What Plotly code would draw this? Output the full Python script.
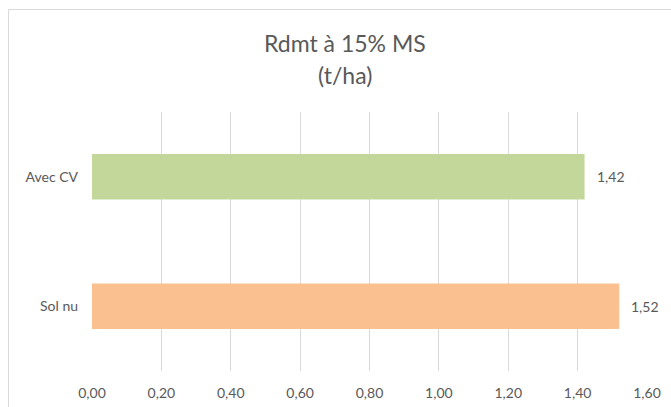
import plotly.graph_objects as go

# Yield at 15% dry matter, t/ha
categories = ["Avec CV", "Sol nu"]
values = [1.42, 1.52]
colors = ["#C4D79B", "#FAC090"]
x_ticks = [0.0, 0.2, 0.4, 0.6, 0.8, 1.0, 1.2, 1.4, 1.6]
title_lines = ["Rdmt à 15% MS", "(t/ha)"]

W, H = 671, 407
ML, MR, MT, MB = 92, 24, 112, 36
pw, ph = W - ML - MR, H - MT - MB

text_color = "#595959"
font_family = "Lato, 'Open Sans', sans-serif"


def px_x(px):
    return (px - ML) / pw


def px_y(py):
    return 1 + (MT - py) / ph


fig = go.Figure(
    go.Bar(
        y=categories,
        x=values,
        orientation="h",
        marker=dict(color=colors, line=dict(width=0)),
        width=0.35,
        hoverinfo="x+y",
    )
)

annotations = []
# value labels just past the end of each bar
for cat, val in zip(categories, values):
    annotations.append(dict(
        x=val, y=cat, xref="x", yref="y",
        text=f"{val:.2f}".replace(".", ","),
        showarrow=False, xanchor="left", yanchor="middle", xshift=10,
        font=dict(size=14, color=text_color, family=font_family),
    ))
# two-line chart title
for line, ypix in zip(title_lines, [43, 75]):
    annotations.append(dict(
        text=line, xref="paper", yref="paper",
        x=px_x(345), y=px_y(ypix),
        xanchor="center", yanchor="middle", showarrow=False,
        font=dict(size=23, color=text_color, family=font_family),
    ))

fig.update_layout(
    width=W,
    height=H,
    margin=dict(l=ML, r=MR, t=MT, b=MB, autoexpand=False),
    paper_bgcolor="white",
    plot_bgcolor="white",
    separators=", ",
    showlegend=False,
    font=dict(family=font_family, color=text_color, size=14),
    xaxis=dict(
        range=[0, 1.6],
        tickvals=x_ticks,
        tickformat=".2f",
        showgrid=True,
        gridcolor="#D9D9D9",
        gridwidth=1,
        zeroline=False,
        showline=False,
        ticks="",
        automargin=False,
        ticklabelstandoff=12,
        tickfont=dict(size=14, color=text_color),
        fixedrange=True,
    ),
    yaxis=dict(
        categoryorder="array",
        categoryarray=categories,
        autorange="reversed",
        showgrid=False,
        zeroline=False,
        showline=False,
        ticks="",
        automargin=False,
        ticklabelstandoff=13,
        tickfont=dict(size=14, color=text_color),
        fixedrange=True,
    ),
    annotations=annotations,
    shapes=[
        # chart frame: top and left edges
        dict(type="line", xref="paper", yref="paper",
             x0=px_x(8.5), x1=px_x(W + 5),
             y0=px_y(9.5), y1=px_y(9.5),
             line=dict(color="#D9D9D9", width=1)),
        dict(type="line", xref="paper", yref="paper",
             x0=px_x(8.5), x1=px_x(8.5),
             y0=px_y(9.5), y1=px_y(H + 5),
             line=dict(color="#D9D9D9", width=1)),
    ],
)

fig.write_html("out.html")
